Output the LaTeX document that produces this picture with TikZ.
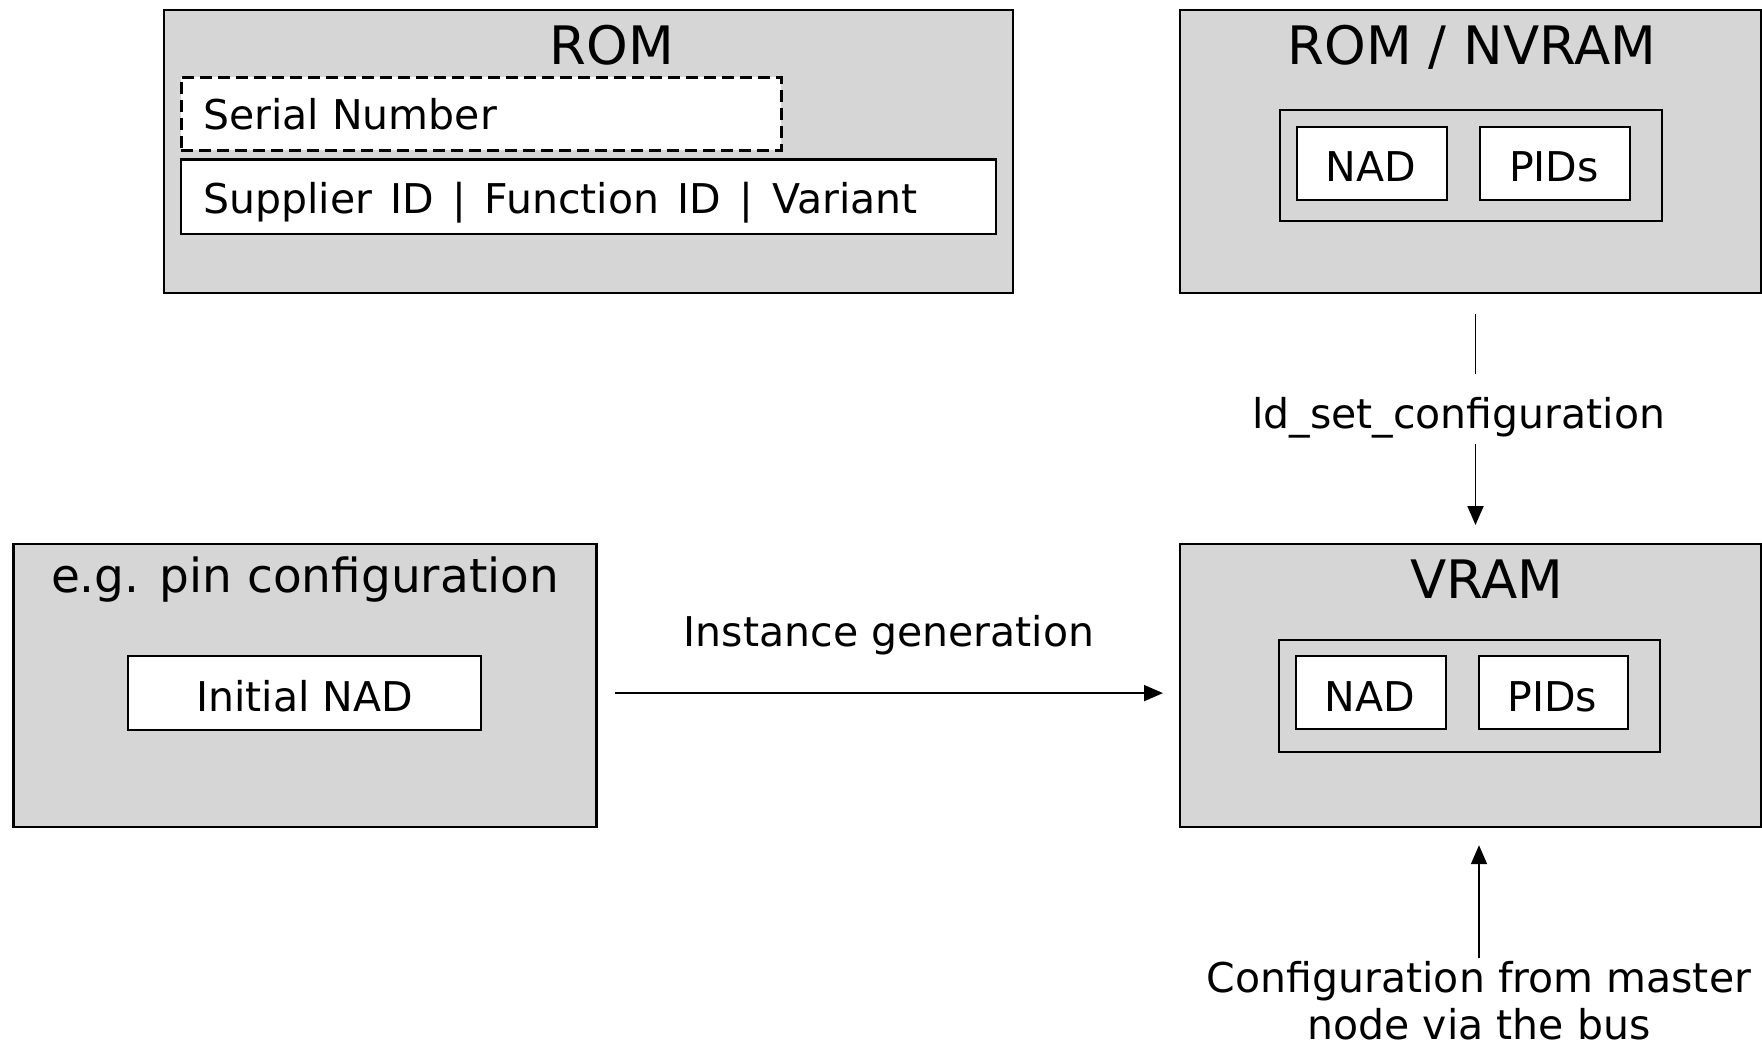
\documentclass[tikz,border=0pt]{standalone}
\usepackage{fontspec}
\setmainfont{DejaVu Sans}
\usetikzlibrary{arrows.meta}
\begin{document}
\begin{tikzpicture}[x=1pt,y=-1pt,
  panel/.style={draw=black, line width=2.2pt, fill=black!16, anchor=north west, inner sep=0pt},
  wbox/.style={draw=black, line width=2.4pt, fill=white, anchor=north west, inner sep=0pt},
  frame/.style={draw=black, line width=2pt, anchor=north west, inner sep=0pt},
  txt/.style={font=\fontsize{41}{48}\selectfont, inner sep=0pt},
  ttl/.style={font=\fontsize{53}{60}\selectfont, inner sep=0pt, anchor=base},
  conn/.style={line width=1.8pt},
  arr/.style={line width=1.8pt, -{Triangle[length=19pt,width=16pt]}}
]
\useasboundingbox (0,0) rectangle (1762,1046);
\fill[white] (0,0) rectangle (1762,1046);

% ROM
\node[panel, minimum width=849pt, minimum height=283pt] (rom) at (163,9) {};
\node[ttl] (romt) at (612,65) {ROM};
\node[wbox, line width=2.6pt, dash pattern=on 12pt off 6pt, minimum width=600pt, minimum height=73pt] (serial) at (180,76) {};
\node[txt, anchor=base west] (serialt) at (203,129.5) {Serial Number};
\node[wbox, minimum width=815pt, minimum height=74pt] (supp) at (180,158.5) {};
\node[font={\fontsize{41}{48}\selectfont\spaceskip=0.45em\relax}, inner sep=0pt, anchor=base west] (suppt) at (203,213.5) {Supplier ID | Function ID | Variant};

% ROM / NVRAM
\node[panel, minimum width=581pt, minimum height=283pt] (nvram) at (1179,9) {};
\node[ttl] (nvramt) at (1472,65) {ROM / NVRAM};
\node[frame, minimum width=382pt, minimum height=111pt] (nvin) at (1279,109) {};
\node[wbox, minimum width=150pt, minimum height=73pt] (nad1) at (1296,126) {};
\node[txt, anchor=base] (nad1t) at (1371,182) {NAD};
\node[wbox, minimum width=150pt, minimum height=73pt] (pid1) at (1479,126) {};
\node[txt, anchor=base] (pid1t) at (1554,182) {PIDs};

% VRAM
\node[panel, minimum width=581pt, minimum height=283pt] (vram) at (1179,543) {};
\node[ttl] (vramt) at (1487,598) {VRAM};
\node[frame, minimum width=381pt, minimum height=111.6pt] (vin) at (1277.6,639) {};
\node[wbox, minimum width=150.5pt, minimum height=73pt] (nad2) at (1294.5,655) {};
\node[txt, anchor=base] (nad2t) at (1369.7,711) {NAD};
\node[wbox, minimum width=149.3pt, minimum height=73pt] (pid2) at (1477.7,655) {};
\node[txt, anchor=base] (pid2t) at (1552.3,711) {PIDs};

% pin configuration
\node[panel, minimum width=583pt, minimum height=283pt] (pin) at (12.4,543) {};
\node[font=\fontsize{47}{54}\selectfont, inner sep=0pt, anchor=base] (pint) at (305,592) {e.g. pin configuration};
\node[wbox, minimum width=353pt, minimum height=74pt] (init) at (127,655) {};
\node[txt, anchor=base] (initt) at (304.5,711) {Initial NAD};

% connectors
\coordinate (ax) at (1475.5,0);
\node[txt, anchor=base] (ld) at (1458.6,428) {ld\_set\_configuration};
\draw[conn, shorten <=20pt, shorten >=23pt] (nvram.south -| ax) -- (ld.north -| ax);
\draw[arr, shorten <=6pt, shorten >=18pt] (ld.south -| ax) -- (vram.north -| ax);

\node[txt, anchor=base] (inst) at (889,646) {Instance generation};
\draw[arr, shorten <=17pt, shorten >=16pt] ([yshift=-7.5pt]pin.east) -- ([yshift=-7.5pt]vram.west);

\node[font=\fontsize{41}{47}\selectfont, inner sep=0pt, align=center, anchor=north] (conf) at (1479,961) {Configuration from master\\node via the bus};
\draw[arr, shorten <=3pt, shorten >=17pt] (conf.north) -- (vram.south -| conf);
\end{tikzpicture}
\end{document}
